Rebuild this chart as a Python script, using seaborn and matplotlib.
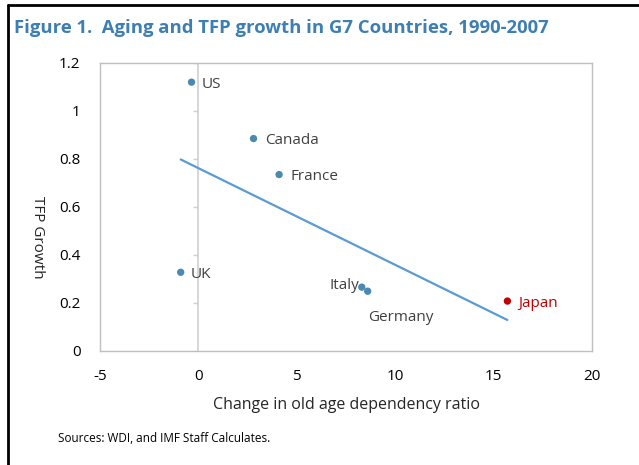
import matplotlib
matplotlib.use("Agg")
import matplotlib.pyplot as plt
import seaborn as sns
import numpy as np
import pandas as pd

countries = ["US", "Canada", "France", "UK", "Italy", "Germany", "Japan"]
dep_change = [-0.35, 2.8, 4.1, -0.9, 8.3, 8.6, 15.7]
tfp_growth = [1.12, 0.885, 0.735, 0.328, 0.266, 0.249, 0.208]
xticks = [-5, 0, 5, 10, 15, 20]
yticks = [0, 0.2, 0.4, 0.6, 0.8, 1.0, 1.2]
ytick_labels = ["0", "0.2", "0.4", "0.6", "0.8", "1", "1.2"]

df = pd.DataFrame({"country": countries, "x": dep_change, "y": tfp_growth})

sns.set_style("white")
plt.rcParams["font.family"] = ["Open Sans", "DejaVu Sans"]
plt.rcParams["axes.unicode_minus"] = False

fig = plt.figure(figsize=(6.39, 4.65), dpi=100)
ax = fig.add_axes([0.1565, 0.2452, 0.770, 0.6194])

blue_pt = "#4a8ab2"
red_pt = "#c00000"
colors = [red_pt if c == "Japan" else blue_pt for c in countries]

sns.regplot(data=df, x="x", y="y", scatter=False, ci=None, truncate=True,
            line_kws=dict(color="#5b9bd5", lw=1.6), ax=ax)
sns.scatterplot(data=df, x="x", y="y", hue="country", palette=colors,
                s=28, edgecolor="none", legend=False, ax=ax, zorder=3)

offsets = {"US": (7, -1.5, "left"), "Canada": (8, -1.5, "left"), "France": (8, -1.5, "left"),
           "UK": (7, -1.5, "left"), "Italy": (-2, 1, "right"), "Germany": (0, -19, "left"),
           "Japan": (8, -2, "left")}
for c, xv, yv in zip(countries, dep_change, tfp_growth):
    dx, dy, ha = offsets[c]
    ax.annotate(c, (xv, yv), xytext=(dx, dy), textcoords="offset points",
                ha=ha, va="center", fontsize=11,
                color=red_pt if c == "Japan" else "#404040")

ax.set_xlim(-5, 20)
ax.set_ylim(0, 1.2)
ax.set_xticks(xticks)
ax.set_yticks(yticks)
ax.set_yticklabels(ytick_labels)
ax.tick_params(axis="x", direction="in", length=4, color="#bfbfbf", labelsize=11,
               labelcolor="#000000", pad=13)
ax.tick_params(axis="y", length=0, labelsize=11, labelcolor="#000000", pad=14)

# vertical axis at x=0 with its ticks
ax.axvline(0, color="#d0d0d0", lw=1.2, zorder=1)
ax.hlines(yticks, -0.25, 0, color="#d0d0d0", lw=1.0, zorder=1)

for s in ax.spines.values():
    s.set_color("#bfbfbf")
    s.set_linewidth(1.0)

ax.set_xlabel("Change in old age dependency ratio", fontsize=11.5, labelpad=9)
ax.set_ylabel("TFP Growth", fontsize=11, rotation=270, va="center")
ax.yaxis.set_label_coords(-0.128, 0.396)

fig.text(14 / 639, 1 - 28 / 465, "Figure 1.  Aging and TFP growth in G7 Countries, 1990-2007",
         fontsize=13.3, fontweight="bold", color="#3d7eb3", va="center", ha="left")
fig.text(58 / 639, 1 - 438 / 465, "Sources: WDI, and IMF Staff Calculates.",
         fontsize=8.5, color="#000000", va="center", ha="left")

# frame lines (top and left) of the source box
fig.add_artist(plt.Line2D([8 / 639, 8 / 639], [0, 1 - 5 / 465], transform=fig.transFigure,
                          color="black", lw=2))
fig.add_artist(plt.Line2D([8 / 639, 1], [1 - 5 / 465, 1 - 5 / 465], transform=fig.transFigure,
                          color="black", lw=2))

fig.savefig("out.png", dpi=100)
